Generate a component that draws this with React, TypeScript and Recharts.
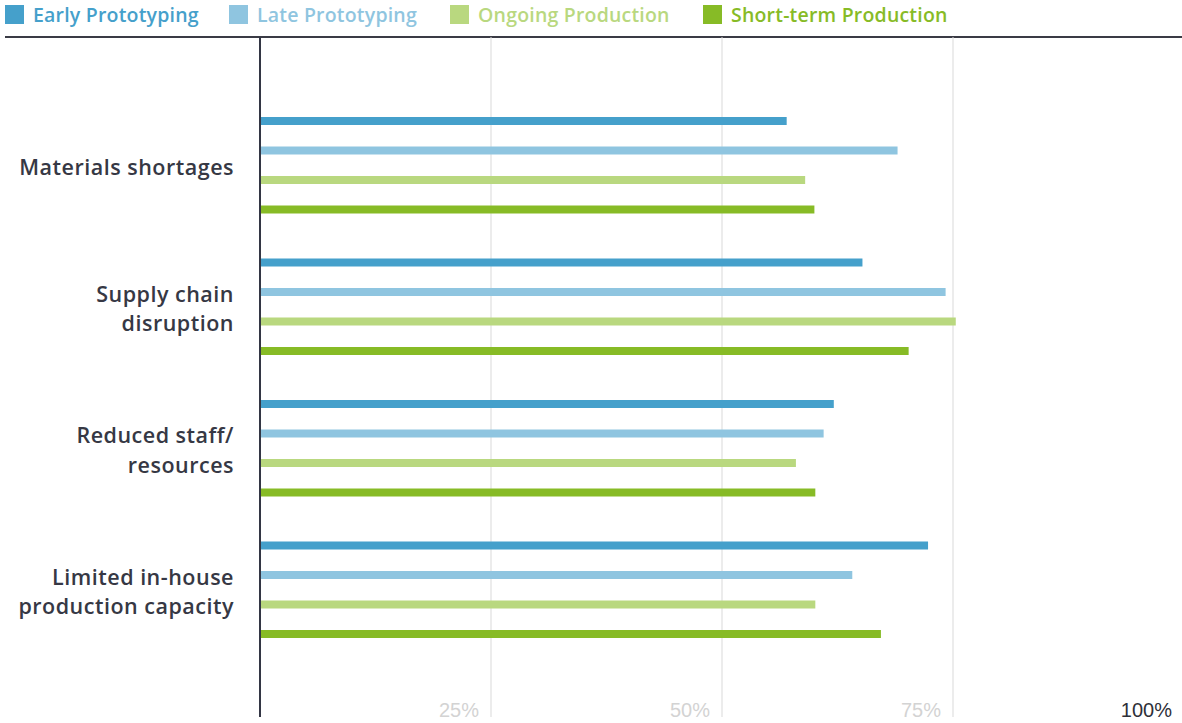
import { BarChart, Bar, XAxis, YAxis, CartesianGrid } from 'recharts';

const categories = [
  'Materials shortages',
  'Supply chain\ndisruption',
  'Reduced staff/\nresources',
  'Limited in-house\nproduction capacity',
];
const earlyPrototyping = [57, 65.2, 62.1, 72.3];
const latePrototyping = [69, 74.2, 61, 64.1];
const ongoingProduction = [59, 75.3, 58, 60.1];
const shortTermProduction = [60, 70.2, 60.1, 67.2];
const xTicks = [0, 25, 50, 75, 100];

const SERIES = [
  { key: 'early', name: 'Early Prototyping', color: '#45a0cb', left: 5 },
  { key: 'late', name: 'Late Prototyping', color: '#8fc5e0', left: 229 },
  { key: 'ongoing', name: 'Ongoing Production', color: '#b9d87f', left: 450 },
  { key: 'short', name: 'Short-term Production', color: '#87bb26', left: 703 },
];

const data = categories.map((name, i) => ({
  name,
  early: earlyPrototyping[i],
  late: latePrototyping[i],
  ongoing: ongoingProduction[i],
  short: shortTermProduction[i],
}));

const catFont = '"Open Sans", Lato, sans-serif';

function CategoryTick({ x, y, payload }: any) {
  const lines = String(payload.value).split('\n');
  const lh = 29.5;
  const start = -((lines.length - 1) * lh) / 2;
  return (
    <text
      x={x - 26}
      y={y + 3}
      textAnchor="end"
      fill="#363844"
      fontFamily={catFont}
      fontSize={21.5}
      fontWeight={600}
      letterSpacing={0.5}
    >
      {lines.map((l, i) => (
        <tspan key={i} x={x - 26} dy={i === 0 ? start + 7 : lh}>
          {l}
        </tspan>
      ))}
    </text>
  );
}

function PercentTick({ x, y, payload }: any) {
  if (payload.value === 0) return null;
  return (
    <text
      x={x - 12}
      y={y}
      textAnchor="end"
      fill={payload.value === 100 ? '#2e3039' : '#d3d3d3'}
      fontFamily="'Liberation Sans', Arial, sans-serif"
      fontSize={20}
    >
      {payload.value + '%'}
    </text>
  );
}

export default function App() {
  return (
    <div
      style={{
        position: 'absolute',
        left: 0,
        top: 0,
        width: 1182,
        height: 723,
        overflow: 'hidden',
        background: '#fff',
      }}
    >
      <div
        style={{
          position: 'absolute',
          left: 5,
          top: 0,
          width: 1177,
          height: 36,
          borderBottom: '2px solid #3a3b45',
          fontFamily: catFont,
          fontSize: 19.5,
          fontWeight: 600,
          letterSpacing: 0.2,
        }}
      >
        {SERIES.map((s) => (
          <div
            key={s.key}
            style={{
              position: 'absolute',
              left: s.left - 5,
              top: 5,
              height: 19,
              display: 'flex',
              alignItems: 'center',
              color: s.color,
              whiteSpace: 'nowrap',
            }}
          >
            <span style={{ width: 19, height: 19, background: s.color, display: 'inline-block', marginRight: 9, flex: 'none' }} />
            {s.name}
          </div>
        ))}
      </div>
      <BarChart
        width={1184}
        height={723}
        data={data}
        layout="vertical"
        margin={{ top: 37, right: 0, bottom: 0, left: 0 }}
        barSize={8}
        barGap={21.5}
      >
        <CartesianGrid horizontal={false} stroke="#d9d9d9" strokeWidth={1} />
        <XAxis
          type="number"
          domain={[0, 100]}
          ticks={xTicks}
          axisLine={false}
          tickLine={false}
          tickSize={0}
          tickMargin={0}
          height={6}
          tick={<PercentTick />}
          interval={0}
        />
        <YAxis
          type="category"
          dataKey="name"
          width={260}
          axisLine={{ stroke: '#333644', strokeWidth: 2 }}
          tickLine={false}
          tickSize={0}
          tickMargin={0}
          tick={<CategoryTick />}
          padding={{ top: 57, bottom: 57 }}
          interval={0}
        />
        {SERIES.map((s) => (
          <Bar key={s.key} dataKey={s.key} name={s.name} fill={s.color} isAnimationActive={false} />
        ))}
      </BarChart>
    </div>
  );
}
